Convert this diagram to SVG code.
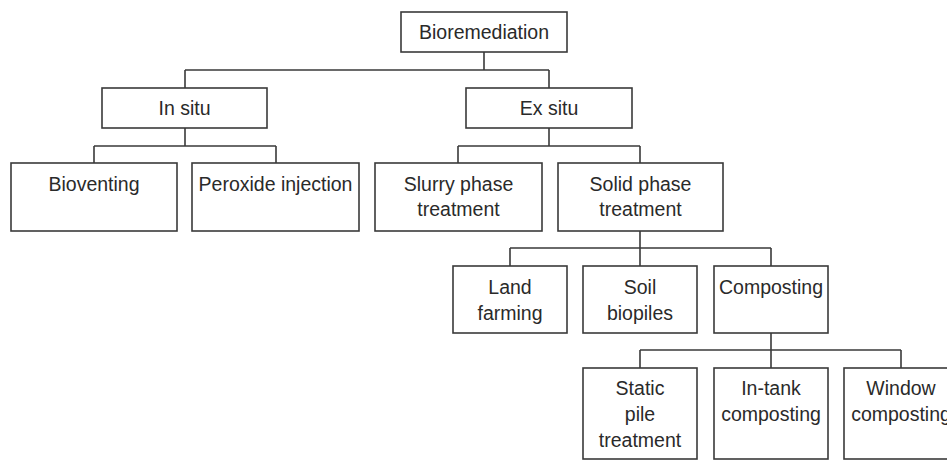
<svg xmlns="http://www.w3.org/2000/svg" width="947" height="460" viewBox="0 0 947 460">
<style>
  rect { fill: #ffffff; stroke: #3a3a3a; stroke-width: 1.6; }
  text { font-family: "Liberation Sans", Arial, sans-serif; font-size: 19.5px; fill: #2a2a2a; text-anchor: middle; }
  .conn { fill: none; stroke: #3a3a3a; stroke-width: 1.6; }
</style>
<rect x="0" y="0" width="947" height="460" style="fill:#ffffff;stroke:none"/>
<g id="connectors">
  <path class="conn" d="M484,52 V70 M185,70 H549 M185,70 V88 M549,70 V88"/>
  <path class="conn" d="M185,128 V146 M94,146 H276 M94,146 V163 M276,146 V163"/>
  <path class="conn" d="M549,128 V146 M458,146 H640 M458,146 V163 M640,146 V163"/>
  <path class="conn" d="M640,231 V248 M510,248 H771 M510,248 V266 M640,248 V266 M771,248 V266"/>
  <path class="conn" d="M771,333 V350 M640,350 H901 M640,350 V368 M771,350 V368 M901,350 V368"/>
</g>
<g id="bioremediation"><rect x="401" y="12" width="166" height="40"/><text x="484" y="39">Bioremediation</text></g>
<g id="in-situ"><rect x="102" y="88" width="165" height="40"/><text x="184.5" y="115">In situ</text></g>
<g id="ex-situ"><rect x="466" y="88" width="166" height="40"/><text x="549" y="115">Ex situ</text></g>
<g id="bioventing"><rect x="11" y="163" width="166" height="68"/><text x="94" y="191">Bioventing</text></g>
<g id="peroxide"><rect x="192" y="163" width="167" height="68"/><text x="275.5" y="191">Peroxide injection</text></g>
<g id="slurry"><rect x="375" y="163" width="167" height="68"/><text x="458.5" y="191">Slurry phase</text><text x="458.5" y="216">treatment</text></g>
<g id="solid"><rect x="558" y="163" width="165" height="68"/><text x="640.5" y="191">Solid phase</text><text x="640.5" y="216">treatment</text></g>
<g id="land-farming"><rect x="453" y="266" width="114" height="67"/><text x="510" y="294">Land</text><text x="510" y="320">farming</text></g>
<g id="soil-biopiles"><rect x="583" y="266" width="114" height="67"/><text x="640" y="294">Soil</text><text x="640" y="320">biopiles</text></g>
<g id="composting"><rect x="714" y="266" width="114" height="67"/><text x="771" y="294">Composting</text></g>
<g id="static-pile"><rect x="583" y="368" width="114" height="91"/><text x="640" y="395">Static</text><text x="640" y="421">pile</text><text x="640" y="447">treatment</text></g>
<g id="in-tank"><rect x="714" y="368" width="114" height="91"/><text x="771" y="395">In-tank</text><text x="771" y="421">composting</text></g>
<g id="window"><rect x="844" y="368" width="114" height="91"/><text x="901" y="395">Window</text><text x="901" y="421">composting</text></g>
</svg>
